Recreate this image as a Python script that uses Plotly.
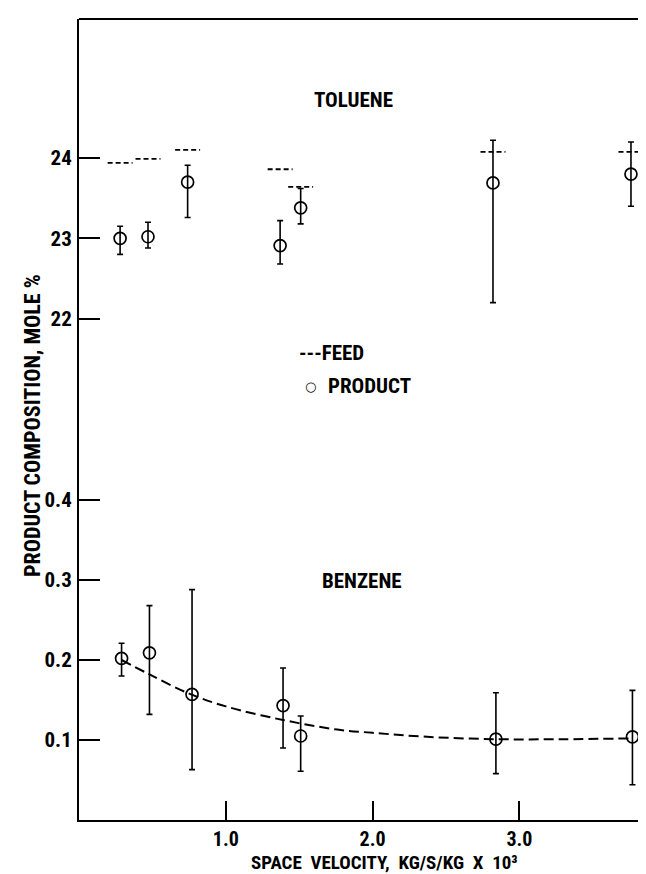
import plotly.graph_objects as go

# ---------------- data ----------------
sv_toluene = [0.28, 0.47, 0.74, 1.37, 1.51, 2.82, 3.76]
toluene_product = [23.00, 23.02, 23.70, 22.91, 23.38, 23.69, 23.80]
toluene_high = [23.15, 23.20, 23.91, 23.22, 23.62, 24.22, 24.20]
toluene_low = [22.80, 22.88, 23.26, 22.68, 23.18, 22.20, 23.40]
toluene_feed = [23.94, 23.99, 24.10, 23.86, 23.64, 24.075, 24.075]

sv_benzene = [0.29, 0.48, 0.77, 1.39, 1.51, 2.84, 3.77]
benzene_product = [0.202, 0.209, 0.157, 0.143, 0.105, 0.101, 0.104]
benzene_high = [0.221, 0.268, 0.288, 0.190, 0.130, 0.159, 0.162]
benzene_low = [0.180, 0.132, 0.063, 0.090, 0.061, 0.058, 0.044]

curve_sv = [0.29, 0.48, 0.75, 1.0, 1.39, 1.76, 2.0, 2.37, 2.84, 3.3, 3.77]
curve_benzene = [0.200, 0.182, 0.158, 0.142, 0.125, 0.113, 0.109, 0.104, 0.101, 0.101, 0.102]

toluene_ticks = [22, 23, 24]
toluene_ticktext = ["22", "23", "24"]
benzene_ticks = [0.1, 0.2, 0.3, 0.4]
benzene_ticktext = ["0.1", "0.2", "0.3", "0.4"]
sv_ticks = [1.0, 2.0, 3.0]
sv_ticktext = ["1.0", "2.0", "3.0"]

# ---------------- layout geometry ----------------
W, H = 646, 874
L, T = 71, 11
BOTTOM_PX = 812            # pixel row of the x axis
B = H - BOTTOM_PX
PW = W - L
PH = BOTTOM_PX - T
X_PX_PER_UNIT = 146.8
BREAK_PX = 420             # pixel row where the axis scale changes
BENZ_PX_PER_UNIT = 800.0
TOL_PX_PER_UNIT = 80.35
TOL_REF_VAL, TOL_REF_PX = 22.0, 310.7

split = (BOTTOM_PX - BREAK_PX) / PH
benz_range = [0.0, (BOTTOM_PX - BREAK_PX) / BENZ_PX_PER_UNIT]
tol_lo = TOL_REF_VAL - (BREAK_PX - TOL_REF_PX) / TOL_PX_PER_UNIT
tol_hi = tol_lo + (BREAK_PX - T) / TOL_PX_PER_UNIT
x_range = [0, PW / X_PX_PER_UNIT]


def px(xp):
    return (xp - L) / PW


def py(yp):
    return (BOTTOM_PX - yp) / PH


FONT = "Roboto Condensed, DejaVu Sans Condensed, sans-serif"
BLACK = "black"

fig = go.Figure()

# feed dashes (toluene)
FEED_HALF = 0.085
fx, fy = [], []
for xv, yv in zip(sv_toluene, toluene_feed):
    fx += [xv - FEED_HALF, xv + FEED_HALF, None]
    fy += [yv, yv, None]
fig.add_trace(go.Scatter(x=fx, y=fy, mode="lines", yaxis="y2",
                         line=dict(color=BLACK, width=1.8, dash="5px,3px"),
                         showlegend=False, hoverinfo="skip"))

# toluene product
fig.add_trace(go.Scatter(
    x=sv_toluene, y=toluene_product, mode="markers", yaxis="y2",
    marker=dict(symbol="circle-open", size=12, color=BLACK, line=dict(width=1.7, color=BLACK)),
    error_y=dict(type="data", symmetric=False,
                 array=[h - v for h, v in zip(toluene_high, toluene_product)],
                 arrayminus=[v - l for v, l in zip(toluene_product, toluene_low)],
                 color=BLACK, thickness=1.6, width=3),
    showlegend=False))

# benzene fitted curve
fig.add_trace(go.Scatter(x=curve_sv, y=curve_benzene, mode="lines", yaxis="y",
                         line=dict(color=BLACK, width=2, dash="10px,5px", shape="spline"),
                         showlegend=False, hoverinfo="skip"))

# benzene product
fig.add_trace(go.Scatter(
    x=sv_benzene, y=benzene_product, mode="markers", yaxis="y",
    marker=dict(symbol="circle-open", size=12, color=BLACK, line=dict(width=1.7, color=BLACK)),
    error_y=dict(type="data", symmetric=False,
                 array=[h - v for h, v in zip(benzene_high, benzene_product)],
                 arrayminus=[v - l for v, l in zip(benzene_product, benzene_low)],
                 color=BLACK, thickness=1.6, width=3),
    showlegend=False))

tickfont = dict(family=FONT, size=21, color=BLACK, weight=700)
xtickfont = dict(family=FONT, size=20, color=BLACK, weight=700)

fig.update_layout(
    width=W, height=H,
    margin=dict(l=L, r=0, t=T, b=B),
    paper_bgcolor="white", plot_bgcolor="white",
    xaxis=dict(range=x_range, domain=[0, 1], anchor="y",
               showline=True, linecolor=BLACK, linewidth=2,
               ticks="inside", ticklen=19, tickwidth=2, tickcolor=BLACK,
               tickvals=sv_ticks, ticktext=sv_ticktext, tickfont=xtickfont,
               showgrid=False, zeroline=False),
    yaxis=dict(range=benz_range, domain=[0, split], anchor="x",
               showline=True, linecolor=BLACK, linewidth=2,
               ticks="inside", ticklen=21, tickwidth=2, tickcolor=BLACK,
               tickvals=benzene_ticks, ticktext=benzene_ticktext, tickfont=tickfont,
               ticklabelstandoff=1,
               showgrid=False, zeroline=False),
    yaxis2=dict(range=[tol_lo, tol_hi], domain=[split, 1], anchor="x",
                showline=True, linecolor=BLACK, linewidth=2,
                ticks="inside", ticklen=21, tickwidth=2, tickcolor=BLACK,
                tickvals=toluene_ticks, ticktext=toluene_ticktext, tickfont=tickfont,
                ticklabelstandoff=1,
                showgrid=False, zeroline=False),
    shapes=[dict(type="line", xref="paper", yref="paper", x0=0, x1=1, y0=1, y1=1,
                 line=dict(color=BLACK, width=2))],
)

lab = dict(family=FONT, size=21, color=BLACK, weight=700)
annotations = [
    dict(text="TOLUENE", x=px(345), y=py(92), xanchor="center", yanchor="middle", font=lab),
    dict(text="BENZENE", x=px(354), y=py(573), xanchor="center", yanchor="middle", font=lab),
    dict(text="---FEED", x=px(289), y=py(345), xanchor="left", yanchor="middle", font=lab),
    dict(text="○", x=px(302), y=py(378), xanchor="center", yanchor="middle",
         font=dict(family="DejaVu Sans", size=13, color=BLACK)),
    dict(text="PRODUCT", x=px(318), y=py(378), xanchor="left", yanchor="middle", font=lab),
    dict(text="PRODUCT COMPOSITION, MOLE %", x=px(24), y=py(418), textangle=-90,
         xanchor="center", yanchor="middle", font=dict(family=FONT, size=22, color=BLACK, weight=700)),
    dict(text="SPACE  VELOCITY,  KG/S/KG  X  10³", x=px(376), y=py(868),
         xanchor="center", yanchor="bottom", font=dict(family=FONT, size=19, color=BLACK, weight=700)),
]
for a in annotations:
    a.update(xref="paper", yref="paper", showarrow=False)
fig.update_layout(annotations=annotations)

fig.write_html("out.html")
